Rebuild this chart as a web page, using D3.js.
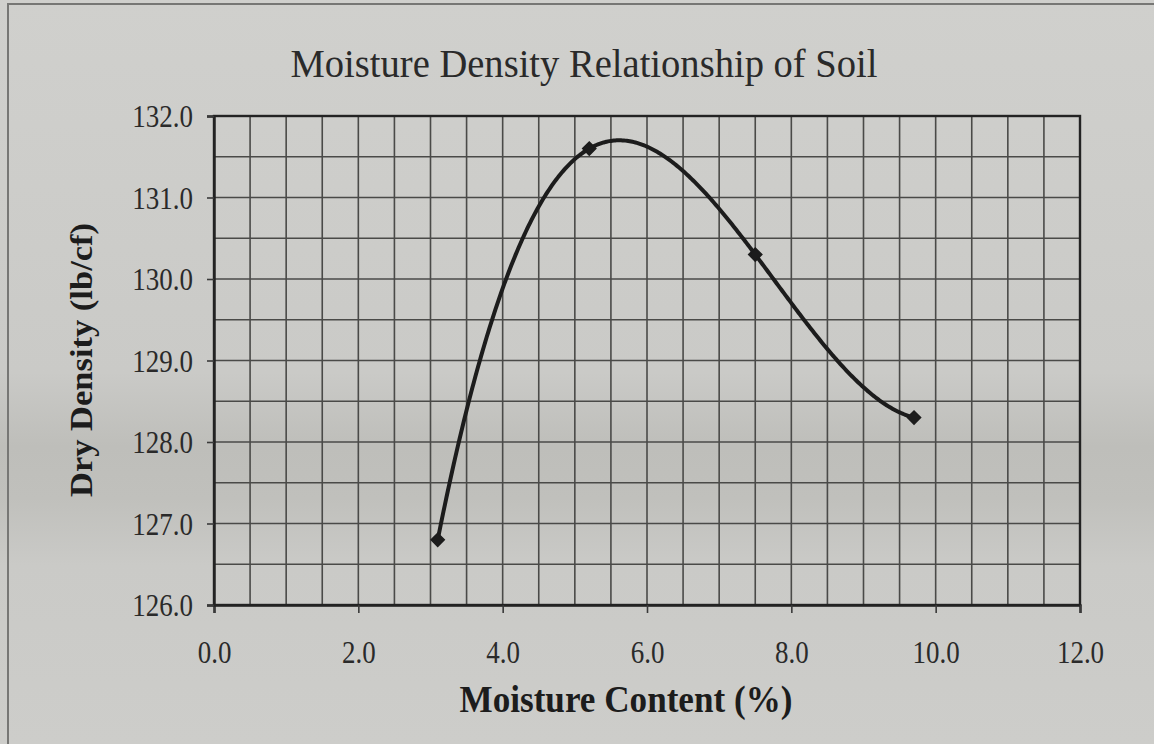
<!DOCTYPE html>
<html>
<head>
<meta charset="utf-8">
<script src="https://cdn.jsdelivr.net/npm/d3@7/dist/d3.min.js"></script>
<style>
  html, body { margin: 0; padding: 0; background: #cbcbc8; }
  svg { display: block; }
</style>
</head>
<body>
<svg id="chart" width="1154" height="744"></svg>
<script>
// Compaction test results
const moisture = [3.1, 5.2, 7.5, 9.7];          // moisture content, %
const density  = [126.8, 131.6, 130.3, 128.3];   // dry density, lb/cf

const xDomain = [0, 12];
const yDomain = [126, 132];
const xMajorTicks = [0, 2, 4, 6, 8, 10, 12];
const yMajorTicks = [126, 127, 128, 129, 130, 131, 132];
const gridStep = 0.5;

const titleText = "Moisture Density Relationship of Soil";
const xTitle = "Moisture Content (%)";
const yTitle = "Dry Density (lb/cf)";

const W = 1154, H = 744;
const plot = { left: 214, right: 1080, top: 116, bottom: 605 };

const svg = d3.select("#chart");
const defs = svg.append("defs");

// paper background with a slightly darker horizontal band
const bg = defs.append("linearGradient").attr("id", "paper")
  .attr("x1", 0).attr("y1", 0).attr("x2", 0).attr("y2", 1);
[[0, "#d0d0cd"], [0.5, "#cacac7"], [0.6, "#bebeba"], [0.67, "#c0c0bc"], [0.76, "#cacac7"], [1, "#cdcdca"]]
  .forEach(([o, c]) => bg.append("stop").attr("offset", o).attr("stop-color", c));
svg.append("rect").attr("width", W).attr("height", H).attr("fill", "url(#paper)");

// outer chart frame
svg.append("path")
  .attr("d", `M8,${H + 5} L8,4 L${W + 5},4`)
  .attr("fill", "none").attr("stroke", "#777775").attr("stroke-width", 2);

const x = d3.scaleLinear().domain(xDomain).range([plot.left, plot.right]);
const y = d3.scaleLinear().domain(yDomain).range([plot.bottom, plot.top]);

const serif = "'Liberation Serif', 'Times New Roman', serif";

// narrow the glyphs of a text selection to a factor of their natural width
function squeeze(sel, factor) {
  sel.each(function () {
    const len = this.getComputedTextLength();
    d3.select(this).attr("textLength", len * factor).attr("lengthAdjust", "spacingAndGlyphs");
  });
}

// gridlines every half unit
const xGrid = d3.range(xDomain[0], xDomain[1] + 1e-9, gridStep);
const yGrid = d3.range(yDomain[0], yDomain[1] + 1e-9, gridStep);
const grid = svg.append("g").attr("stroke", "#4a4a48").attr("stroke-width", 1.6);
grid.selectAll("line.v").data(xGrid).join("line").attr("class", "v")
  .attr("x1", d => x(d)).attr("x2", d => x(d))
  .attr("y1", plot.top).attr("y2", plot.bottom);
grid.selectAll("line.h").data(yGrid).join("line").attr("class", "h")
  .attr("x1", plot.left).attr("x2", plot.right)
  .attr("y1", d => y(d)).attr("y2", d => y(d));

// plot frame
svg.append("rect")
  .attr("x", plot.left).attr("y", plot.top)
  .attr("width", plot.right - plot.left).attr("height", plot.bottom - plot.top)
  .attr("fill", "none").attr("stroke", "#232323").attr("stroke-width", 2.4);

// axes
const xAxis = svg.append("g")
  .attr("transform", `translate(0,${plot.bottom})`)
  .call(d3.axisBottom(x).tickValues(xMajorTicks).tickSize(8).tickPadding(28)
    .tickFormat(d3.format(".1f")));
const yAxis = svg.append("g")
  .attr("transform", `translate(${plot.left},0)`)
  .call(d3.axisLeft(y).tickValues(yMajorTicks).tickSize(7).tickPadding(14)
    .tickFormat(d3.format(".1f")));

[xAxis, yAxis].forEach(a => {
  a.select(".domain").attr("stroke", "#232323").attr("stroke-width", 2.4);
  a.selectAll(".tick line").attr("stroke", "#3a3a3a").attr("stroke-width", 1.6);
  a.selectAll(".tick text")
    .attr("fill", "#2a2a2a")
    .style("font-family", serif).style("font-size", "31px");
});
yAxis.selectAll(".tick text").attr("dy", "0.34em");
squeeze(xAxis.selectAll(".tick text"), 0.87);
squeeze(yAxis.selectAll(".tick text"), 0.87);

// third-order polynomial trend through the test points (Lagrange form)
function trend(m) {
  let s = 0;
  for (let i = 0; i < moisture.length; i++) {
    let term = density[i];
    for (let j = 0; j < moisture.length; j++) {
      if (j !== i) term *= (m - moisture[j]) / (moisture[i] - moisture[j]);
    }
    s += term;
  }
  return s;
}
const mMin = d3.min(moisture), mMax = d3.max(moisture);
const trendX = d3.range(mMin, mMax, 0.02).concat([mMax]);
const line = d3.line().x(m => x(m)).y(m => y(trend(m)));
svg.append("path").datum(trendX)
  .attr("d", line)
  .attr("fill", "none").attr("stroke", "#1c1c1c").attr("stroke-width", 4)
  .attr("stroke-linejoin", "round").attr("stroke-linecap", "round");

// diamond markers at the test points
const pts = moisture.map((m, i) => [m, density[i]]);
svg.selectAll("path.pt").data(pts).join("path").attr("class", "pt")
  .attr("transform", d => `translate(${x(d[0])},${y(d[1])})`)
  .attr("d", d3.symbol(d3.symbolDiamond2, 110))
  .attr("fill", "#1c1c1c").attr("stroke", "#1c1c1c").attr("stroke-width", 1.5);

// title
svg.append("text")
  .attr("x", 584).attr("y", 77)
  .attr("text-anchor", "middle")
  .attr("fill", "#2a2a2a")
  .style("font-family", serif).style("font-size", "41px")
  .text(titleText)
  .attr("textLength", 587).attr("lengthAdjust", "spacingAndGlyphs");

// x axis title
svg.append("text")
  .attr("x", 626).attr("y", 712)
  .attr("text-anchor", "middle")
  .attr("fill", "#1c1c1c")
  .style("font-family", serif).style("font-size", "37px").style("font-weight", "bold")
  .text(xTitle)
  .attr("textLength", 333).attr("lengthAdjust", "spacingAndGlyphs");

// y axis title
svg.append("g")
  .attr("transform", "translate(92,360) scale(0.88,1)")
  .append("text")
  .attr("transform", "rotate(-90)")
  .attr("text-anchor", "middle")
  .attr("fill", "#1c1c1c")
  .style("font-family", serif).style("font-size", "36px").style("font-weight", "bold")
  .text(yTitle)
  .attr("textLength", 274).attr("lengthAdjust", "spacingAndGlyphs");
</script>
</body>
</html>
